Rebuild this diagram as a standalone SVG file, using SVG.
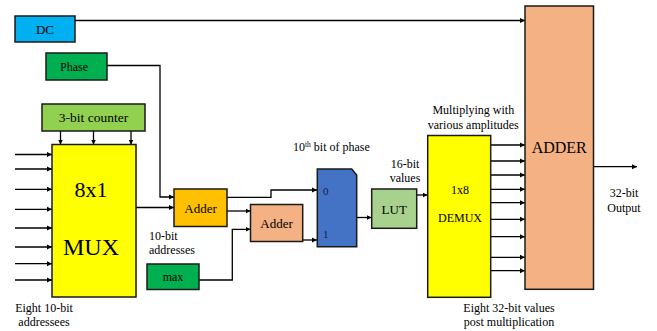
<svg xmlns="http://www.w3.org/2000/svg" width="657" height="331" viewBox="0 0 657 331">
<defs>
<marker id="ah" markerWidth="6" markerHeight="6" refX="5" refY="3" orient="auto" markerUnits="userSpaceOnUse">
<path d="M0,0.5 L5,3 L0,5.5 Z" fill="#000"/>
</marker>
<style>
text{font-family:"Liberation Serif","Times New Roman","DejaVu Serif",serif}
.box{stroke:#1a1a1a;stroke-width:1.5}
.t{fill:#000;text-anchor:middle}
.a{fill:none;stroke:#000;stroke-width:1.3;marker-end:url(#ah)}
</style>
</defs>
<rect width="657" height="331" fill="#fff"/>

<g id="connectors">
<path class="a" d="M75,20.5 H525"/>
<path class="a" d="M107,65.5 H160 V197 H174"/>
<path class="a" d="M60.5,131 V144.5"/>
<path class="a" d="M93.5,131 V144.5"/>
<path class="a" d="M131,131 V144.5"/>
<path class="a" d="M15,154.5 H52"/>
<path class="a" d="M15,169 H52"/>
<path class="a" d="M15,189.3 H52"/>
<path class="a" d="M15,209.3 H52"/>
<path class="a" d="M15,228 H52"/>
<path class="a" d="M15,247 H52"/>
<path class="a" d="M15,263.7 H52"/>
<path class="a" d="M15,280 H52"/>
<path class="a" d="M136,207.5 H174"/>
<path class="a" d="M227,197.3 H271 V190 H317"/>
<path class="a" d="M227,211 H250.5"/>
<path class="a" d="M199,280 H232.3 V229.3 H250.5"/>
<path class="a" d="M302.7,240 H317"/>
<path class="a" d="M357,217.5 H371.5"/>
<path class="a" d="M416.7,195 H427.5"/>
<path class="a" d="M491,145 H525"/>
<path class="a" d="M491,161 H525"/>
<path class="a" d="M491,175 H525"/>
<path class="a" d="M491,189.3 H525"/>
<path class="a" d="M491,202.7 H525"/>
<path class="a" d="M491,219.3 H525"/>
<path class="a" d="M491,236.7 H525"/>
<path class="a" d="M491,257.3 H525"/>
<path class="a" d="M491,270.7 H525"/>
<path class="a" d="M593.5,166.7 H637"/>
</g>

<g id="dc">
<rect class="box" x="15" y="16" width="60" height="26" fill="#00B0F0"/>
<text class="t" x="45" y="33.5" font-size="13">DC</text>
</g>
<g id="phase">
<rect class="box" x="46" y="53" width="61" height="27" fill="#00B050"/>
<text class="t" x="74" y="70.5" font-size="12">Phase</text>
</g>
<g id="counter">
<rect class="box" x="42" y="104" width="103" height="27" fill="#92D050"/>
<text class="t" x="93.5" y="122" font-size="13.5">3-bit counter</text>
</g>
<g id="mux">
<rect class="box" x="52" y="144.5" width="84" height="152.5" fill="#FFFF00"/>
<text class="t" x="91" y="197" font-size="22">8x1</text>
<text class="t" x="91" y="255" font-size="24">MUX</text>
</g>
<g id="adder1">
<rect class="box" x="174" y="189" width="53" height="37.5" fill="#FFC000"/>
<text class="t" x="200.5" y="212.5" font-size="13">Adder</text>
</g>
<g id="adder2">
<rect class="box" x="250.5" y="204.5" width="52.2" height="37" fill="#F4B183"/>
<text class="t" x="276.6" y="227.5" font-size="13">Adder</text>
</g>
<g id="max">
<rect class="box" x="147" y="264" width="52" height="25.5" fill="#00B050"/>
<text class="t" x="173" y="280.5" font-size="12">max</text>
</g>
<g id="sel">
<path class="box" d="M317.3,169 H351.7 L356.7,175 V246.7 H317.3 Z" fill="#4472C4"/>
<text x="323" y="195" font-size="11" fill="#1a1a40">0</text>
<text x="323" y="238" font-size="11" fill="#1a1a40">1</text>
</g>
<g id="lut">
<rect class="box" x="371.7" y="189" width="45" height="39.3" fill="#A9D18E"/>
<text class="t" x="394.2" y="213.5" font-size="13">LUT</text>
</g>
<g id="demux">
<rect class="box" x="427.7" y="135.5" width="63" height="161.8" fill="#FFFF00"/>
<text class="t" x="460" y="193.5" font-size="12">1x8</text>
<text class="t" x="460" y="221.5" font-size="12">DEMUX</text>
</g>
<g id="adder">
<rect class="box" x="525" y="6" width="68.5" height="283.3" fill="#F4B183"/>
<text class="t" x="559.2" y="152.5" font-size="16">ADDER</text>
</g>

<g id="labels">
<text class="t" x="44" y="311.5" font-size="12">Eight 10-bit</text>
<text class="t" x="44" y="326" font-size="12">addressees</text>
<text x="149" y="240" font-size="12">10-bit</text>
<text x="149" y="254" font-size="12">addresses</text>
<text x="293" y="151" font-size="12">10<tspan font-size="7.5" dy="-4">th</tspan><tspan dy="4"> bit of phase</tspan></text>
<text class="t" x="405" y="168" font-size="12">16-bit</text>
<text class="t" x="405" y="182" font-size="12">values</text>
<text class="t" x="473.3" y="113.5" font-size="12">Multiplying with</text>
<text class="t" x="473.3" y="128.5" font-size="12">various amplitudes</text>
<text class="t" x="624" y="196.5" font-size="12">32-bit</text>
<text class="t" x="624" y="212" font-size="12">Output</text>
<text class="t" x="509" y="311.5" font-size="12">Eight 32-bit values</text>
<text class="t" x="509" y="326" font-size="12">post multiplication</text>
</g>
</svg>
